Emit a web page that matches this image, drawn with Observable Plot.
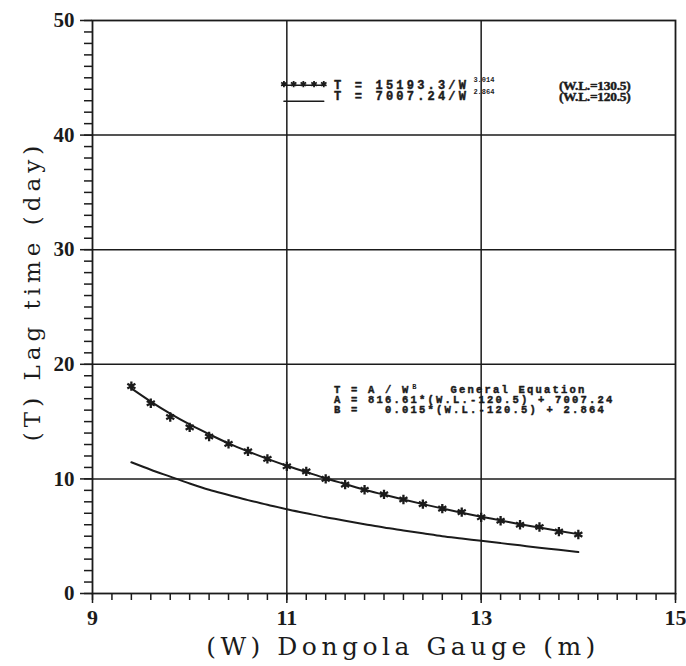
<!DOCTYPE html>
<html>
<head>
<meta charset="utf-8">
<script src="https://cdn.jsdelivr.net/npm/d3@7"></script>
<script src="https://cdn.jsdelivr.net/npm/@observablehq/plot@0.6"></script>
<style>
  html, body { margin: 0; padding: 0; background: #fff; }
  svg text { white-space: pre; }
</style>
</head>
<body>
<div id="chart"></div>
<script>
// Water level at Dongola gauge (m)
const gaugeLevel = [9.4, 9.6, 9.8, 10.0, 10.2, 10.4, 10.6, 10.8, 11.0, 11.2, 11.4, 11.6,
                    11.8, 12.0, 12.2, 12.4, 12.6, 12.8, 13.0, 13.2, 13.4, 13.6, 13.8, 14.0];
// Observed lag time (days), W.L. = 130.5 (asterisks)
const observedLag130 = [18.1, 16.6, 15.4, 14.5, 13.7, 13.05, 12.4, 11.75, 11.1, 10.65, 10.0, 9.5,
                        9.05, 8.65, 8.2, 7.8, 7.4, 7.1, 6.65, 6.35, 6.0, 5.8, 5.4, 5.15];
// Fitted curve T = 15193.3 / W^3.014 (W.L. = 130.5)
const fittedLag130 = [17.9, 16.75, 15.7, 14.75, 13.9, 13.1, 12.4, 11.75, 11.15, 10.6, 10.05, 9.55,
                      9.05, 8.62, 8.2, 7.8, 7.42, 7.05, 6.7, 6.38, 6.05, 5.75, 5.45, 5.18];
// Fitted curve T = 7007.24 / W^2.864 (W.L. = 120.5)
const fittedLag120 = [11.45, 10.8, 10.2, 9.6, 9.05, 8.6, 8.15, 7.75, 7.35, 7.0, 6.65, 6.35,
                      6.05, 5.75, 5.5, 5.25, 5.0, 4.8, 4.6, 4.4, 4.2, 4.0, 3.82, 3.62];

const xTicks = [9, 11, 13, 15];
const yTicks = [0, 10, 20, 30, 40, 50];
const xGrid = [11, 13];
const yGrid = [10, 20, 30, 40];

const xTitle = "(W) Dongola Gauge (m)";
const yTitle = "(T) Lag time (day)";
const legendLabels = ["T = 15193.3/W", "T = 7007.24/W"];
const legendExponents = ["3.014", "2.864"];
const legendLevels = ["(W.L.=130.5)", "(W.L.=120.5)"];
const equationLines = ["T = A / W", "A = 816.61*(W.L.-120.5) + 7007.24", "B =   0.015*(W.L.-120.5) + 2.864"];
const equationTitle = "General Equation";

const obs = gaugeLevel.map((w, i) => ({w, t: observedLag130[i]}));
const fit130 = gaugeLevel.map((w, i) => ({w, t: fittedLag130[i]}));
const fit120 = gaugeLevel.map((w, i) => ({w, t: fittedLag120[i]}));

const ink = "#1b1b1b";
const serif = "DejaVu Serif";
const tickFont = "Liberation Serif";
const mono = "Liberation Mono";
const heavy = {fontWeight: "bold", fill: ink, stroke: ink, strokeWidth: 0.45};

const chart = Plot.plot({
  width: 686,
  height: 666,
  marginLeft: 92,
  marginRight: 11,
  marginTop: 20,
  marginBottom: 73,
  style: {fontFamily: serif, color: ink, background: "#fff", overflow: "visible"},
  x: {domain: [9, 15]},
  y: {domain: [0, 50]},
  marks: [
    Plot.ruleX(xGrid, {stroke: ink, strokeWidth: 1.5}),
    Plot.ruleY(yGrid, {stroke: ink, strokeWidth: 1.5}),
    Plot.frame({stroke: ink, strokeWidth: 1.8}),
    // minor ticks
    Plot.axisX({ticks: 30, tickSize: 7, text: null, label: null, stroke: ink, strokeWidth: 1.5}),
    Plot.axisY({ticks: 50, tickSize: 8, text: null, label: null, stroke: ink, strokeWidth: 1.5}),
    // major ticks + labels
    Plot.axisX({ticks: xTicks, tickSize: 10, tickPadding: 6, label: null, fontSize: 22,
                fontWeight: "bold", fontFamily: tickFont, stroke: ink, strokeWidth: 1.5, tickFormat: d => String(d)}),
    Plot.axisY({ticks: yTicks, tickSize: 12, tickPadding: 6, label: null, fontSize: 21,
                fontWeight: "bold", fontFamily: tickFont, stroke: ink, strokeWidth: 1.5, tickFormat: d => String(d)}),
    // axis titles
    Plot.text([xTitle], {frameAnchor: "bottom", textAnchor: "middle", dx: 19, dy: 61, fontSize: 25, fontFamily: serif, fill: ink}),
    Plot.text([yTitle], {frameAnchor: "left", textAnchor: "middle", lineAnchor: "middle", rotate: -90, dx: -60, dy: -16,
                         fontSize: 23, fontFamily: serif, fill: ink}),
    // curves
    Plot.line(fit130, {x: "w", y: "t", curve: "monotone-x", stroke: ink, strokeWidth: 2}),
    Plot.line(fit120, {x: "w", y: "t", curve: "monotone-x", stroke: ink, strokeWidth: 2}),
    Plot.dot(obs, {x: "w", y: "t", symbol: "asterisk", r: 4.4, stroke: ink, strokeWidth: 2.3}),
    // legend samples
    Plot.line([{w: 10.95, t: 44.35}, {w: 11.38, t: 44.35}], {x: "w", y: "t", stroke: ink, strokeWidth: 1.5}),
    Plot.dot([10.97, 11.07, 11.17, 11.28, 11.38], {x: d => d, y: 44.45, symbol: "asterisk", r: 3, stroke: ink, strokeWidth: 1.8}),
    Plot.line([{w: 10.97, t: 42.95}, {w: 11.38, t: 42.95}], {x: "w", y: "t", stroke: ink, strokeWidth: 1.5}),
    Plot.text(legendLabels, {x: 11.485, y: (d, i) => [44.35, 43.37][i], textAnchor: "start", fontSize: 12,
                             fontFamily: mono, ...heavy}),
    Plot.text(legendExponents, {x: 12.92, y: (d, i) => [44.8, 43.82][i], textAnchor: "start", fontSize: 7,
                                fontWeight: "bold", fontFamily: mono, fill: ink}),
    Plot.text(legendLevels, {x: 13.8, y: (d, i) => [44.35, 43.37][i], textAnchor: "start", fontSize: 13.5,
                             fontFamily: tickFont, ...heavy}),
    // general equation block
    Plot.text(equationLines, {x: 11.485, y: (d, i) => [17.75, 16.88, 16.01][i], textAnchor: "start", fontSize: 10.5,
                              fontFamily: mono, ...heavy}),
    Plot.text(["B"], {x: 12.29, y: 18.05, textAnchor: "start", fontSize: 7, fontWeight: "bold", fontFamily: mono, fill: ink}),
    Plot.text([equationTitle], {x: 12.684, y: 17.75, textAnchor: "start", fontSize: 10.5,
                                fontFamily: mono, ...heavy})
  ]
});

// letter spacing to mimic the wide typewriter-like lettering of the original
const spacing = new Map();
spacing.set(xTitle, 4.5);
spacing.set(yTitle, 5);
legendLabels.forEach(s => spacing.set(s, 3.2));
legendLevels.forEach(s => spacing.set(s, -0.3));
equationLines.concat([equationTitle]).forEach(s => spacing.set(s, 2.2));
d3.select(chart).selectAll("text").each(function() {
  const s = spacing.get(this.textContent);
  if (s != null) this.setAttribute("letter-spacing", s);
});

document.getElementById("chart").appendChild(chart);
</script>
</body>
</html>
